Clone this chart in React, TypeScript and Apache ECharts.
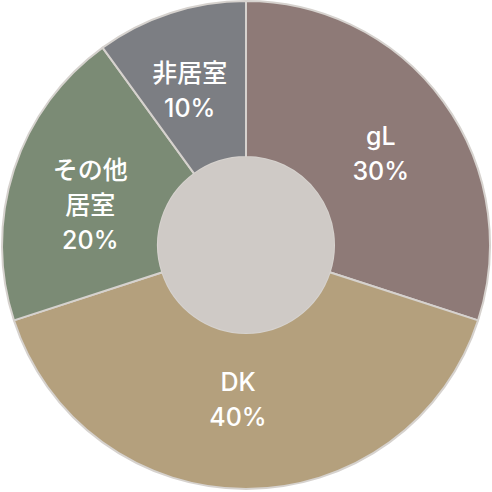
import * as echarts from "echarts";
import { useEffect, useRef } from "react";

const names = ["gL", "DK", "その他居室", "非居室"];
const labels = ["gL", "DK", "その他\n居室", "非居室"];
const values = [30, 40, 20, 10];
const colors = ["#8e7a77", "#b4a07d", "#7b8b75", "#7c7e83"];
// small nudges so the labels sit where the original placed them
const labelNudge = [
  [-2, 8],
  [-8, -15],
  [5, 12],
  [-4, 6],
];

export default function App() {
  const ref = useRef<HTMLDivElement | null>(null);

  useEffect(() => {
    if (!ref.current) return;
    document.body.style.margin = "0";
    const chart = echarts.init(ref.current, undefined, { renderer: "svg" });
    chart.setOption({
      animation: false,
      series: [
        {
          type: "pie",
          center: [246, 245],
          radius: [88, 244],
          startAngle: 90,
          clockwise: true,
          silent: true,
          itemStyle: {
            borderColor: "#d6d2ce",
            borderWidth: 2,
          },
          label: {
            show: true,
            position: "inside",
            color: "#ffffff",
            fontSize: 25,
            lineHeight: 35,
            fontWeight: 500,
            fontFamily: "Inter, 'Noto Sans CJK JP', sans-serif",
            formatter: (p: any) => labels[p.dataIndex] + "\n" + p.value + "%",
          },
          labelLine: { show: false },
          data: names.map((n, i) => ({
            name: n,
            value: values[i],
            itemStyle: { color: colors[i] },
            label: { offset: labelNudge[i] },
          })),
        },
        {
          type: "pie",
          center: [246, 245],
          radius: [0, 88],
          silent: true,
          label: { show: false },
          labelLine: { show: false },
          itemStyle: { color: "#cfcac6" },
          data: [{ name: "center", value: 1 }],
        },
      ],
    });
    return () => chart.dispose();
  }, []);

  return <div ref={ref} style={{ width: 492, height: 492 }} />;
}
